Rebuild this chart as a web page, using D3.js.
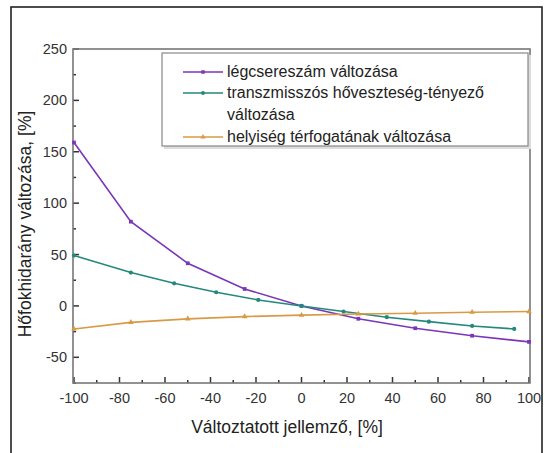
<!DOCTYPE html>
<html><head><meta charset="utf-8">
<script src="https://cdn.jsdelivr.net/npm/d3@7"></script>
<style>body{margin:0;background:#fff}svg{display:block}text{font-family:Arial,"Liberation Sans",sans-serif}</style>
</head><body><svg id="c" width="548" height="453"></svg>
<script>
const xTicks = [-100,-80,-60,-40,-20,0,20,40,60,80,100];
const yTicks = [-50,0,50,100,150,200,250];
const seriesNames = ["légcsereszám változása","transzmisszós hőveszteség-tényező","helyiség térfogatának változása"];
const airX = [-100,-75,-50,-25,0,25,50,75,100];
const airY = [159,82,41.5,16.5,0,-12.5,-21.7,-29,-35];
const transX = [-100,-75,-56,-37.5,-19,0,18.5,37.5,56,75,93.5];
const transY = [49,32.5,22,13.3,5.8,0,-5.5,-11,-15.3,-19.5,-22.4];
const volX = [-100,-75,-50,-25,0,25,50,75,100];
const volY = [-22.4,-16,-12.6,-10.4,-9,-7.8,-7.1,-6.1,-5.5];
const colors = ["#7a36b8","#23897d","#d99a45"];

const svg = d3.select("#c");
svg.append("rect").attr("x",11).attr("y",7).attr("width",531).attr("height",460)
  .attr("fill","none").attr("stroke","#222").attr("stroke-width",1.6);

const x = d3.scaleLinear().domain([-100,100]).range([74,529]);
const y = d3.scaleLinear().domain([-75,250]).range([383,49]);
const L=73,R=530,T=49,B=383;

const g = svg.append("g");
const xMinor = d3.range(-100,101,10), yMinor = d3.range(-75,251,25);
xMinor.forEach(v=>{const len = v%20===0?6:3;
  g.append("line").attr("x1",x(v)).attr("x2",x(v)).attr("y1",B).attr("y2",B-len).attr("stroke","#333").attr("stroke-width",1.5);});
yMinor.forEach(v=>{const len = v%50===0?6:3;
  g.append("line").attr("x1",L).attr("x2",L+len).attr("y1",y(v)).attr("y2",y(v)).attr("stroke","#333").attr("stroke-width",1.5);});
svg.append("rect").attr("x",L).attr("y",T).attr("width",R-L).attr("height",B-T)
  .attr("fill","none").attr("stroke","#777").attr("stroke-width",1.6);

xTicks.forEach(v=>svg.append("text").attr("x",x(v)).attr("y",403).attr("text-anchor","middle")
  .attr("font-size",14.5).attr("fill","#333").text(v));
yTicks.forEach(v=>svg.append("text").attr("x",67).attr("y",y(v)+5).attr("text-anchor","end")
  .attr("font-size",14.5).attr("fill","#333").text(v));

svg.append("text").attr("x",287).attr("y",433).attr("text-anchor","middle").attr("font-size",17.5).attr("fill","#222")
  .text("Változtatott jellemző, [%]");
svg.append("text").attr("transform","translate(31,224) rotate(-90)").attr("text-anchor","middle").attr("font-size",17.5).attr("fill","#222")
  .text("Hőfokhidarány változása, [%]");

const line = d3.line().x(d=>x(d[0])).y(d=>y(d[1]));
const data = [d3.zip(airX,airY), d3.zip(transX,transY), d3.zip(volX,volY)];
const sym = i => i===0?d3.symbolSquare:(i===1?d3.symbolCircle:d3.symbolTriangle);
data.forEach((d,i)=>{
  svg.append("path").attr("d",line(d)).attr("fill","none").attr("stroke",colors[i]).attr("stroke-width",1.6);
  svg.selectAll(null).data(d).enter().append("path")
    .attr("transform",p=>`translate(${x(p[0])},${y(p[1])})`)
    .attr("d", d3.symbol().type(sym(i)).size(14))
    .attr("fill",colors[i]);
});

svg.append("rect").attr("x",164).attr("y",55).attr("width",367).attr("height",94).attr("fill","#ddd");
svg.append("rect").attr("x",162).attr("y",53).attr("width",366).attr("height",93).attr("fill","#fff").attr("stroke","#888").attr("stroke-width",1.2);
const rows = [72,93,137];
rows.forEach((ry,i)=>{
  svg.append("line").attr("x1",183).attr("x2",223).attr("y1",ry).attr("y2",ry).attr("stroke",colors[i]).attr("stroke-width",1.6);
  svg.append("path").attr("transform",`translate(203,${ry})`).attr("d",d3.symbol().type(sym(i)).size(12)).attr("fill",colors[i]);
  svg.append("text").attr("x",227).attr("y",ry+5).attr("font-size",16).attr("fill","#222").text(seriesNames[i]);
});
svg.append("text").attr("x",227).attr("y",120).attr("font-size",16).attr("fill","#222").text("változása");
</script></body></html>
